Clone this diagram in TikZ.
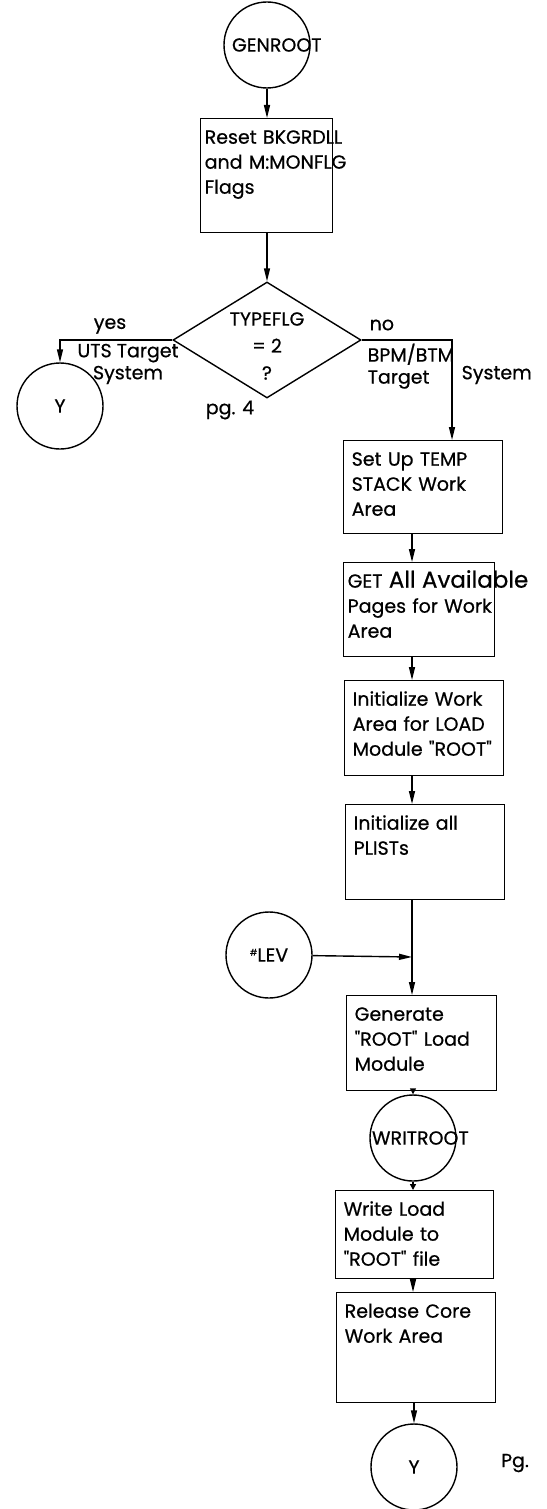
\documentclass[tikz,border=0pt]{standalone}
\usepackage{fontspec}
\setmainfont{Poppins}[Ligatures=TeXOff, FakeBold=0.6]
\usepackage{tikz}
\usetikzlibrary{shapes.geometric, arrows.meta, positioning}

\begin{document}
\begin{tikzpicture}[
    x=1pt, y=-1pt,
    font=\fontsize{19}{25}\selectfont,
    flowbox/.style 2 args={rectangle, draw, anchor=north west, text width=#1, align=left,
        text height=19pt, text depth=#2, inner xsep=8pt, inner ysep=6pt},
    conn/.style={circle, draw, minimum size=86pt, inner sep=0pt},
    decision/.style={diamond, draw, aspect=1.6, minimum width=188pt, minimum height=116pt, inner sep=0pt},
    lbl/.style={inner sep=1pt, align=left},
    arrow/.style={-{Triangle[length=13pt,width=6pt]}},
    short/.style={-{Triangle[length=6pt,width=6pt]}},
    line width=1.4pt
]
    \useasboundingbox (0,0) rectangle (546,1509);

    % Start and first step
    \node[conn, label={[anchor=west, inner sep=0pt, xshift=8pt]west:GENROOT}] (genroot) at (267,45) {};
    \node[flowbox={124pt}{83pt}, inner xsep=4pt] (reset) at (200,118) {Reset~BKGRDLL\\and~M:MONFLG\\Flags};

    % Decision
    \node[decision] (typeflg) at (267,340) {};
    \node[align=center, font=\fontsize{19}{27}\selectfont] (typeflgtext) at (267,346) {TYPEFLG\\= 2\\?};
    \node[conn] (yleft) at (60,406) {Y};
    \node[lbl] (yes) at (110,326) {yes};
    \node[lbl, align=center, font=\fontsize{19}{22}\selectfont] (uts) at (128,364) {UTS~Target\\System};
    \node[lbl] (pgleft) at (230,410) {pg. 4};
    \coordinate (nocorner) at (452,340);
    \node[lbl, anchor=west] (no) at (368,325) {no};
    \node[lbl, anchor=north west, font=\fontsize{19}{22}\selectfont] (bpm) at (366,342) {BPM/BTM\\Target};
    \node[lbl, anchor=west] (sys) at (460,375) {System};

    % Right column
    \coordinate (spine) at (412,0);
    \node[flowbox={143pt}{62pt}] (temp) at (343,440) {Set~Up~TEMP\\STACK~Work\\Area};
    \node[flowbox={143pt}{63pt}, inner xsep=4pt] (getpages) at (343,562) {\mbox{GET {\fontsize{23}{25}\selectfont All Available}}\\Pages~for~Work\\Area};
    \node[flowbox={143pt}{64pt}] (initwork) at (344,680) {Initialize~Work\\Area~for~LOAD\\Module~"ROOT"};
    \node[flowbox={143pt}{64pt}] (plists) at (345,804) {Initialize~all\\PLISTs};
    \node[conn] (lev) at (269,955) {\raisebox{6pt}{\small\#}LEV};
    \coordinate (join) at (412,957);
    \node[flowbox={134pt}{64pt}] (generate) at (346,995) {Generate\\"ROOT"~Load\\Module};
    \node[conn, label={[anchor=west, inner sep=0pt, xshift=2pt]west:WRITROOT}] (writroot) at (413,1138) {};
    \node[flowbox={142pt}{57pt}] (writeload) at (335,1190) {Write~Load\\Module~to\\"ROOT"~file};
    \node[flowbox={143pt}{79pt}] (release) at (336,1292) {Release~Core\\Work~Area};
    \node[conn] (yend) at (414,1467) {Y};
    \node[lbl] (pgend) at (515,1463) {Pg.};

    % Arrows
    \draw[arrow] (genroot) -- (genroot |- reset.north);
    \draw[arrow] (reset.south -| typeflg) -- (typeflg.north);
    \draw[arrow] (typeflg.west) -| (yleft.north);
    \draw[arrow] (typeflg.east) -- (nocorner) -- (nocorner |- temp.north);
    \draw[arrow] (temp.south -| spine) -- (getpages.north -| spine);
    \draw[arrow] (getpages.south -| spine) -- (initwork.north -| spine);
    \draw[arrow] (initwork.south -| spine) -- (plists.north -| spine);
    \draw[arrow] (plists.south -| spine) -- (generate.north -| spine);
    \draw[arrow] (lev) -- (join);
    \draw[short] (generate.south -| writroot) -- (writroot.north);
    \draw[short] (writroot.south) -- (writroot |- writeload.north);
    \draw[arrow] (writeload.south -| writroot) -- (writroot |- release.north);
    \draw[arrow] (release.south -| yend) -- (yend.north);

\end{tikzpicture}
\end{document}
